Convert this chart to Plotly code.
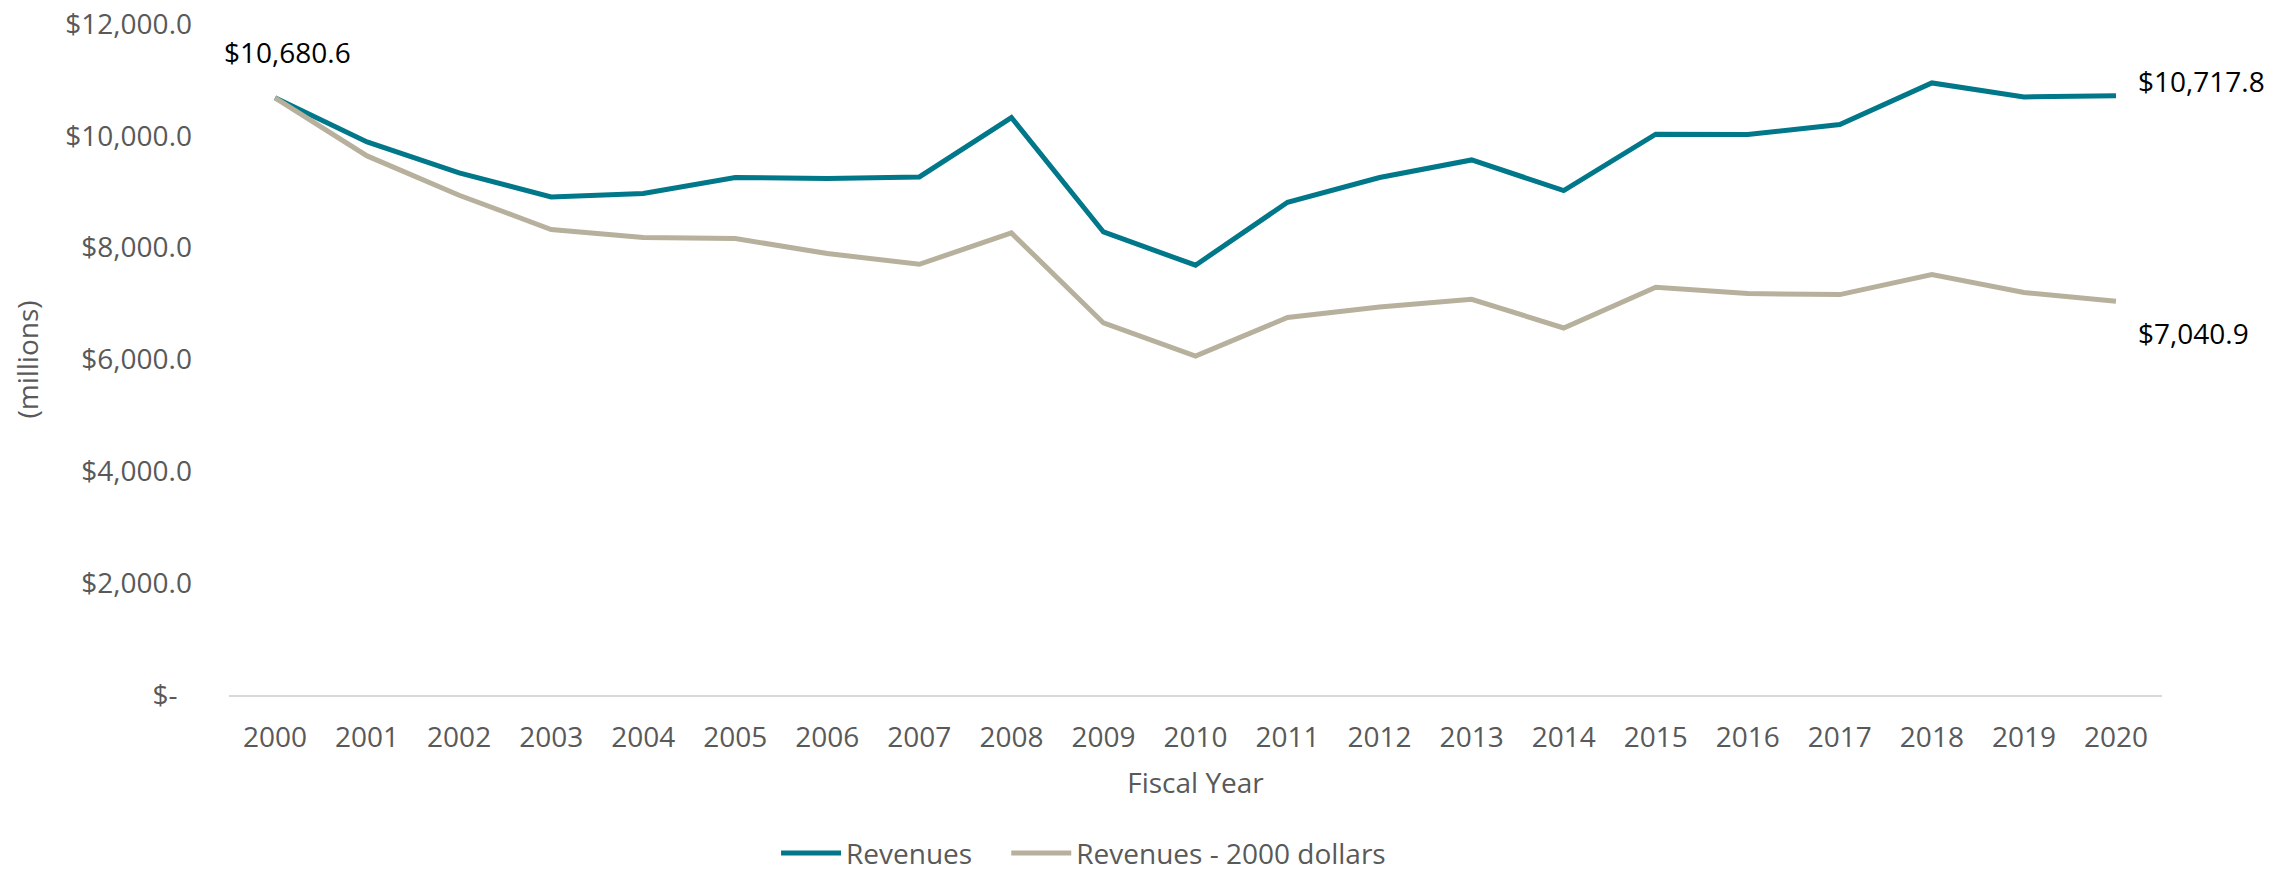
import plotly.graph_objects as go

# Fiscal years and revenue series (millions of dollars)
years = list(range(2000, 2021))
revenues = [10680.6, 9891, 9337, 8907, 8968, 9254, 9236, 9265, 10327, 8281,
            7686, 8812, 9254, 9569, 9022, 10029, 10023, 10202, 10946, 10696, 10717.8]
revenues_2000 = [10680.6, 9641, 8938, 8324, 8181, 8163, 7895, 7703, 8263, 6654,
                 6063, 6750, 6940, 7077, 6564, 7292, 7179, 7161, 7519, 7197, 7040.9]

y_ticks = [0, 2000, 4000, 6000, 8000, 10000, 12000]
y_tick_text = ["$-\u00a0\u00a0", "$2,000.0", "$4,000.0", "$6,000.0", "$8,000.0", "$10,000.0", "$12,000.0"]

TEAL = "#00788A"
BEIGE = "#B7B09C"
GRAY = "#595959"
FONT = "Open Sans"
PAD = "\u00a0" * 4  # spacing after the first legend entry


def money(v):
    return "${:,.1f}".format(v)


fig = go.Figure()
fig.add_trace(go.Scatter(x=years, y=revenues, mode="lines", name="Revenues" + PAD,
                         line=dict(color=TEAL, width=5)))
fig.add_trace(go.Scatter(x=years, y=revenues_2000, mode="lines", name="Revenues - 2000 dollars",
                         line=dict(color=BEIGE, width=5)))

# Value labels on the first and last points
fig.add_annotation(x=years[0], y=revenues[0], text=money(revenues[0]), showarrow=False,
                   xanchor="center", yanchor="middle", xshift=12, yshift=46,
                   font=dict(family=FONT, size=28, color="#000000"))
fig.add_annotation(x=years[-1], y=revenues[-1], text=money(revenues[-1]), showarrow=False,
                   xanchor="left", yanchor="middle", xshift=20, yshift=15,
                   font=dict(family=FONT, size=28, color="#000000"))
fig.add_annotation(x=years[-1], y=revenues_2000[-1], text=money(revenues_2000[-1]), showarrow=False,
                   xanchor="left", yanchor="middle", xshift=20, yshift=-32,
                   font=dict(family=FONT, size=28, color="#000000"))

fig.update_layout(
    width=2295, height=875,
    margin=dict(l=229, r=133, t=24, b=180, autoexpand=False),
    paper_bgcolor="white", plot_bgcolor="white",
    font=dict(family=FONT, size=28, color=GRAY),
    showlegend=True,
    legend=dict(orientation="h", x=0.283, xanchor="left", y=-0.236, yanchor="middle",
                font=dict(family=FONT, size=28, color=GRAY),
                itemwidth=60, tracegroupgap=0, bgcolor="rgba(0,0,0,0)"),
)

fig.update_xaxes(
    range=[1999.5, 2020.5], tickmode="array", tickvals=years, ticktext=[str(y) for y in years],
    showgrid=False, zeroline=False, showline=True, linecolor="#D9D9D9", linewidth=2,
    ticks="", ticklabelstandoff=16,
    tickfont=dict(family=FONT, size=28, color=GRAY),
    title=dict(text="Fiscal Year", standoff=20, font=dict(family=FONT, size=28, color=GRAY)),
)
fig.update_yaxes(
    range=[0, 12000], tickmode="array", tickvals=y_ticks, ticktext=y_tick_text,
    showgrid=False, zeroline=False, showline=False,
    ticks="", ticklabelstandoff=36,
    tickfont=dict(family=FONT, size=28, color=GRAY),
    title=dict(text="(millions)", standoff=18, font=dict(family=FONT, size=28, color=GRAY)),
)

fig.write_html("out.html")
